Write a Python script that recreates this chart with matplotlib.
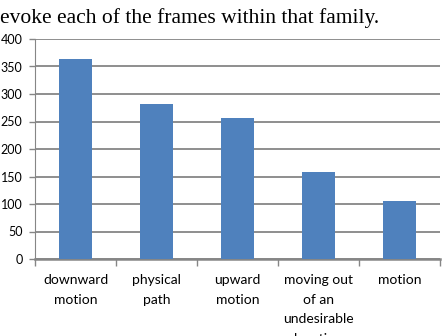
import matplotlib.pyplot as plt
import numpy as np

# frame families and counts
categories = ['downward\nmotion', 'physical\npath', 'upward\nmotion',
              'moving out\nof an\nundesirable\nlocation', 'motion']
counts = [364, 282, 256, 158, 106]
yticks = [0, 50, 100, 150, 200, 250, 300, 350, 400]

fig = plt.figure(figsize=(4.44, 3.36), dpi=100)
ax = fig.add_axes([35/444, 1 - 259/336, 405/444, 220/336])

x = np.arange(len(categories))
ax.bar(x, counts, width=0.4, color='#4F81BD', zorder=3)

grid_col = '#868686'
ax.set_ylim(0, 400)
ax.set_xlim(-0.5, len(categories) - 0.5)
ax.set_yticks(yticks)
ax.yaxis.grid(True, color=grid_col, linewidth=1.3, zorder=0)
ax.tick_params(axis='y', length=4, width=1, color=grid_col, labelsize=9, pad=5)

# labels centred under bars, ticks at category boundaries
ax.set_xticks(x)
ax.set_xticklabels(categories, fontsize=10, linespacing=1.75, va='top')
ax.tick_params(axis='x', which='major', length=0, pad=11)
ax.set_xticks(np.arange(-0.5, len(categories)), minor=True)
ax.tick_params(axis='x', which='minor', length=5, width=1, color=grid_col)

for lab in ax.get_xticklabels() + ax.get_yticklabels():
    lab.set_fontfamily('Lato')

for s in ['top', 'right']:
    ax.spines[s].set_visible(False)
ax.spines['left'].set_color(grid_col)
ax.spines['bottom'].set_color(grid_col)
ax.spines['bottom'].set_linewidth(1.8)

# text from the surrounding document
fig.text(0.0, 1 - 23/336, 'evoke each of the frames within that family.',
         fontsize=15.5, family='Liberation Serif', va='baseline', ha='left')

fig.savefig('out.png', dpi=100)
